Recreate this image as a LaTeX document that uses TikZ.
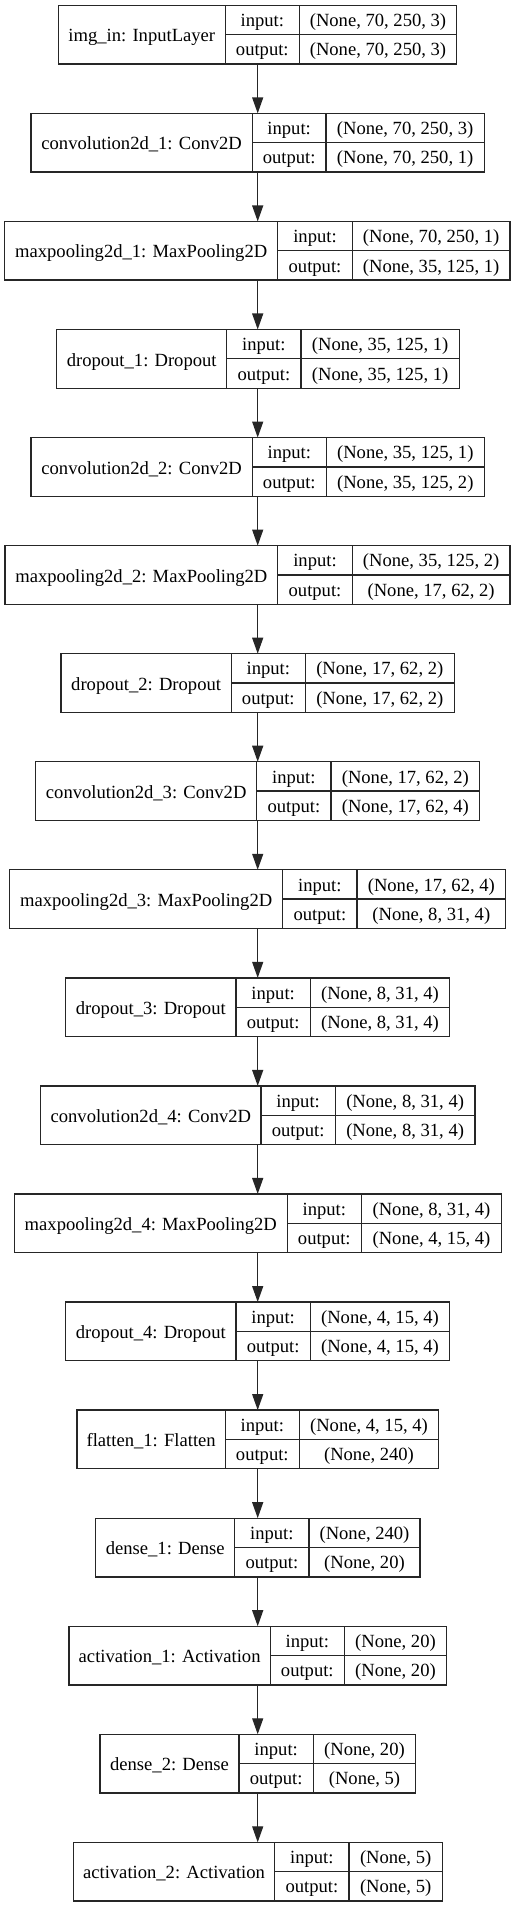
\documentclass[tikz,border=0pt]{standalone}
\usepackage{fontspec}
\setmainfont{Liberation Serif}
\usetikzlibrary{arrows.meta}
\newcommand\keraslayer[8]{%
  \pgfmathsetmacro\kt{5.3+108.06*#1}%
  \node[layerbox, minimum width={(#5-#2)*1pt}, anchor=north west] (n#1) at (#2,\kt) {};
  \draw[cellline] (#3,\kt) -- (#3,{\kt+58.7});
  \draw[cellline] (#4,\kt) -- (#4,{\kt+58.7});
  \draw[cellline] (#3,{\kt+29.35}) -- (#5,{\kt+29.35});
  \node[lbl] (n#1name) at ({(#2+#3)/2},{\kt+29.35+7.2}) {#6};
  \node[lbl] (n#1inl) at ({(#3+#4)/2},{\kt+14.67+6.6}) {input:};
  \node[lbl] (n#1outl) at ({(#3+#4)/2},{\kt+44.0+6.6}) {output:};
  \node[lbl] (n#1inv) at ({(#4+#5)/2},{\kt+14.67+6.6}) {#7};
  \node[lbl] (n#1outv) at ({(#4+#5)/2},{\kt+44.0+6.6}) {#8};
}
\begin{document}
\begin{tikzpicture}[x=1pt,y=-1pt,
  layerbox/.style={draw=black!85, line width=1.3pt, minimum height=58.7pt, inner sep=0pt, outer sep=0pt},
  cellline/.style={draw=black!85, line width=1.3pt},
  lbl/.style={anchor=base, inner sep=0pt, font=\fontsize{18.6}{22}\selectfont},
  arr/.style={draw=black!85, line width=1.3pt, -{Triangle[length=16pt,width=11pt]}}]
\useasboundingbox (0,0) rectangle (516,1907);
\keraslayer{0}{58.3}{225.3}{299.3}{456.7}{img\_in: InputLayer}{(None, 70, 250, 3)}{(None, 70, 250, 3)}
\keraslayer{1}{31}{252.3}{326}{484.3}{convolution2d\_1: Conv2D}{(None, 70, 250, 3)}{(None, 70, 250, 1)}
\keraslayer{2}{4.7}{277.7}{352.3}{510}{maxpooling2d\_1: MaxPooling2D}{(None, 70, 250, 1)}{(None, 35, 125, 1)}
\keraslayer{3}{56.7}{226.7}{301}{459.3}{dropout\_1: Dropout}{(None, 35, 125, 1)}{(None, 35, 125, 1)}
\keraslayer{4}{31}{252.3}{326.3}{484.3}{convolution2d\_2: Conv2D}{(None, 35, 125, 1)}{(None, 35, 125, 2)}
\keraslayer{5}{5}{277.7}{352.3}{510}{maxpooling2d\_2: MaxPooling2D}{(None, 35, 125, 2)}{(None, 17, 62, 2)}
\keraslayer{6}{61}{231.3}{305.3}{454.3}{dropout\_2: Dropout}{(None, 17, 62, 2)}{(None, 17, 62, 2)}
\keraslayer{7}{35.7}{256.7}{331}{479.7}{convolution2d\_3: Conv2D}{(None, 17, 62, 2)}{(None, 17, 62, 4)}
\keraslayer{8}{9.7}{282.7}{357}{505.7}{maxpooling2d\_3: MaxPooling2D}{(None, 17, 62, 4)}{(None, 8, 31, 4)}
\keraslayer{9}{65.7}{236}{310.3}{449.7}{dropout\_3: Dropout}{(None, 8, 31, 4)}{(None, 8, 31, 4)}
\keraslayer{10}{40.7}{261}{335.3}{475}{convolution2d\_4: Conv2D}{(None, 8, 31, 4)}{(None, 8, 31, 4)}
\keraslayer{11}{14.3}{287.3}{361.3}{501.7}{maxpooling2d\_4: MaxPooling2D}{(None, 8, 31, 4)}{(None, 4, 15, 4)}
\keraslayer{12}{65.7}{236}{310.3}{449.7}{dropout\_4: Dropout}{(None, 4, 15, 4)}{(None, 4, 15, 4)}
\keraslayer{13}{77}{225.3}{299.3}{438.7}{flatten\_1: Flatten}{(None, 4, 15, 4)}{(None, 240)}
\keraslayer{14}{95.7}{234.7}{309}{420}{dense\_1: Dense}{(None, 240)}{(None, 20)}
\keraslayer{15}{69}{270.3}{344.3}{446.7}{activation\_1: Activation}{(None, 20)}{(None, 20)}
\keraslayer{16}{100}{239}{313.3}{415.7}{dense\_2: Dense}{(None, 20)}{(None, 5)}
\keraslayer{17}{73.3}{274.7}{349}{442.3}{activation\_2: Activation}{(None, 5)}{(None, 5)}
\coordinate (ax) at (257.7,0);
\foreach \a [evaluate=\a as \b using int(\a+1)] in {0,...,16} {
  \draw[arr] (n\a.south -| ax) -- (n\b.north -| ax);
}
\end{tikzpicture}
\end{document}
